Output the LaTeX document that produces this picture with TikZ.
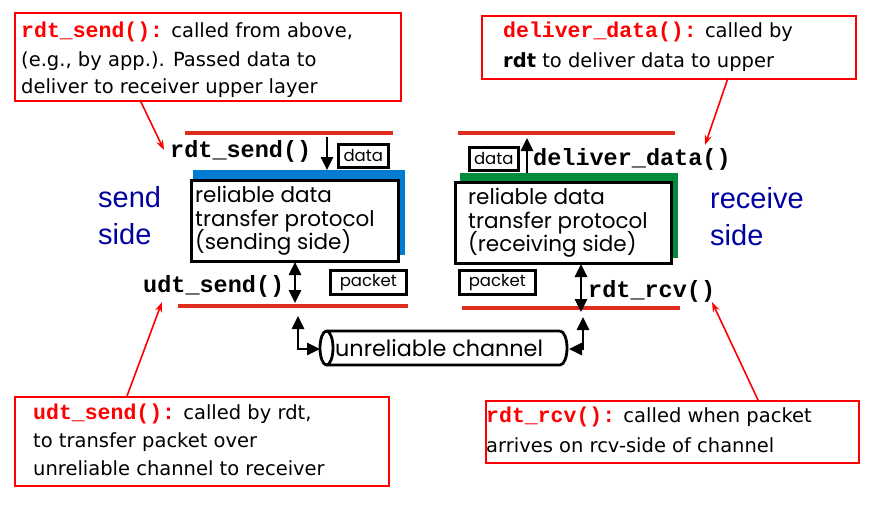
\documentclass[tikz,border=0pt]{standalone}
\usepackage{fontspec}
\setmainfont{DejaVu Sans}
\newfontfamily\codefont{Liberation Mono}
\newfontfamily\arialfont{Liberation Sans}
\newfontfamily\geofont{Poppins}
\usetikzlibrary{arrows.meta}
\definecolor{cred}{RGB}{255,0,0}
\definecolor{lred}{RGB}{222,45,30}
\definecolor{sblue}{RGB}{0,125,210}
\definecolor{sgreen}{RGB}{0,140,60}
\definecolor{sideblue}{RGB}{0,0,160}
\newcommand\ccode[1]{{\codefont\bfseries\fontsize{21.5}{22}\selectfont\color{cred}#1}}
\tikzset{
  cbox/.style={draw=cred, line width=1.6pt, anchor=north west, inner sep=0pt},
  ctext/.style={anchor=base west, inner sep=0pt, font=\fontsize{19.5}{22}\selectfont},
  mlabel/.style={anchor=base west, inner sep=0pt, font=\codefont\bfseries\fontsize{23.5}{24}\selectfont},
  ptext/.style={anchor=base west, inner sep=0pt, font=\geofont\fontsize{21.5}{22}\selectfont},
  sidetext/.style={anchor=base west, inner sep=0pt, text=sideblue, font=\arialfont\fontsize{29}{30}\selectfont},
  protobox/.style={draw, line width=3pt, fill=white, anchor=north west, inner sep=0pt},
  shadowbox/.style={anchor=north west, inner sep=0pt},
  tagbox/.style={draw, line width=2.6pt, anchor=north west, inner sep=0pt, font=\geofont\fontsize{16.5}{17}\selectfont},
  redline/.style={draw=lred, line width=3.6pt},
  arr/.style={line width=2.8pt, -{Triangle[length=13pt,width=12pt]}},
  darr/.style={line width=2.8pt, {Triangle[length=13pt,width=12pt]}-{Triangle[length=13pt,width=12pt]}},
  ptr/.style={draw=cred, line width=1.6pt, -{Stealth[length=10pt,width=7pt]}},
}
\begin{document}
\begin{tikzpicture}[x=1pt,y=-1pt]
\useasboundingbox (0,0) rectangle (882,514);
% ---------- callout boxes ----------
\node[cbox, minimum width=386pt, minimum height=88pt] (c1) at (14,12) {};
\node[ctext] (c1a) at (21,37) {\ccode{rdt\_send():} called from above,};
\node[ctext] (c1b) at (21,66) {(e.g., by app.). Passed data to};
\node[ctext] (c1c) at (21,93) {deliver to receiver upper layer};

\node[cbox, minimum width=374pt, minimum height=63pt] (c2) at (481,15) {};
\node[ctext] (c2a) at (503,37) {\ccode{deliver\_data():} called by};
\node[ctext] (c2b) at (503,67) {\textbf{rdt} to deliver data to upper};

\node[cbox, minimum width=374pt, minimum height=89pt] (c3) at (14,396) {};
\node[ctext] (c3a) at (33,419) {\ccode{udt\_send():} called by rdt,};
\node[ctext] (c3b) at (33,447) {to transfer packet over};
\node[ctext] (c3c) at (33,475) {unreliable channel to receiver};

\node[cbox, minimum width=373pt, minimum height=62pt] (c4) at (485,400) {};
\node[ctext] (c4a) at (486,422) {\ccode{rdt\_rcv():} called when packet};
\node[ctext] (c4b) at (486,452) {arrives on rcv-side of channel};

% ---------- red layer lines ----------
\coordinate (l1a) at (185,133); \coordinate (l1b) at (393,133);
\coordinate (l2a) at (178,306); \coordinate (l2b) at (408,306);
\coordinate (r1a) at (458,133); \coordinate (r1b) at (675,133);
\coordinate (r2a) at (462,308); \coordinate (r2b) at (680,308);
\draw[redline] (l1a) -- (l1b);
\draw[redline] (l2a) -- (l2b);
\draw[redline] (r1a) -- (r1b);
\draw[redline] (r2a) -- (r2b);

% ---------- sender ----------
\node[shadowbox, fill=sblue, minimum width=212pt, minimum height=85pt] (sh1) at (193,170) {};
\node[protobox, minimum width=207pt, minimum height=81pt] (p1) at (190,179) {};
\node[ptext] (p1a) at (195,202) {reliable data};
\node[ptext] (p1b) at (195,226) {transfer protocol};
\node[ptext] (p1c) at (195,249) {(sending side)};
\node[sidetext] (s1a) at (98,207) {send};
\node[sidetext] (s1b) at (98,244) {side};
\node[mlabel] (rs) at (170,157) {rdt\_send()};
\node[mlabel] (us) at (143,292) {udt\_send()};
\node[tagbox, minimum width=50pt, minimum height=23pt] (d1) at (337,143) {data};
\node[tagbox, minimum width=76pt, minimum height=24pt] (k1) at (329,269) {packet};
\coordinate (a1s) at (327,137);
\draw[arr] (a1s) -- (a1s |- sh1.north);
\coordinate (a3t) at (295,262);
\coordinate (a3b) at (295,303);
\draw[darr] (a3t) -- (a3b);

% ---------- receiver ----------
\node[shadowbox, fill=sgreen, minimum width=218pt, minimum height=85pt] (sh2) at (460,173) {};
\node[protobox, minimum width=216pt, minimum height=81pt] (p2) at (454,181) {};
\node[ptext] (p2a) at (468,204) {reliable data};
\node[ptext] (p2b) at (468,228) {transfer protocol};
\node[ptext] (p2c) at (468,251) {(receiving side)};
\node[sidetext] (s2a) at (710,208) {receive};
\node[sidetext] (s2b) at (710,245) {side};
\node[mlabel] (dd) at (533,165) {deliver\_data()};
\node[mlabel] (rr) at (588,297) {rdt\_rcv()};
\node[tagbox, minimum width=49pt, minimum height=23pt] (d2) at (468,146) {data};
\node[tagbox, minimum width=76pt, minimum height=24pt] (k2) at (458,269) {packet};
\coordinate (a2t) at (527,138);
\draw[arr] (a2t |- sh2.north) -- (a2t);
\coordinate (a4t) at (581,264);
\coordinate (a4b) at (581,312);
\draw[darr] (a4t) -- (a4b);

% ---------- channel ----------
\draw[line width=2.8pt] (560,331) -- (326.5,331) arc[start angle=90, end angle=450, x radius=6.5pt, y radius=17pt];
\draw[line width=2.8pt] (326.5,365) -- (560,365) arc[start angle=-90, end angle=90, x radius=7pt, y radius=17pt];
\node[anchor=base west, inner sep=0pt, font=\geofont\fontsize{22.3}{24}\selectfont] (ch) at (335,356) {unreliable channel};
\coordinate (chl) at (320,349);
\coordinate (chr) at (569,349);
\coordinate (el) at (298,316);
\coordinate (er) at (583,317);
\draw[darr] (el) |- (chl);
\draw[darr] (chr) -| (er);

% ---------- pointers ----------
\draw[ptr] (140,100) -- (164,150);
\draw[ptr] (728,78) -- (705,145);
\draw[ptr] (127,396) -- (162,302);
\draw[ptr] (758,400) -- (712,302);
\end{tikzpicture}
\end{document}
